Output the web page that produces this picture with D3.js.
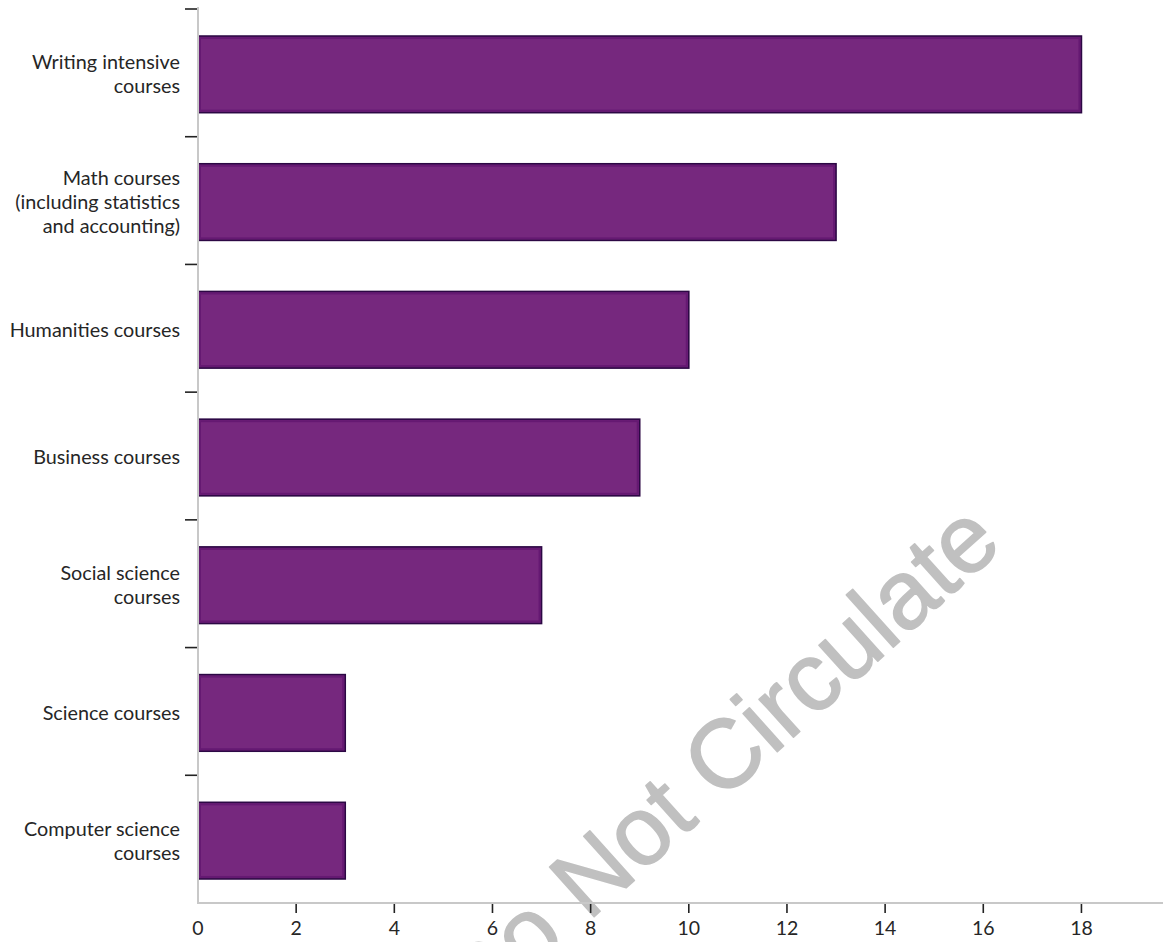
<!DOCTYPE html>
<html>
<head>
<meta charset="utf-8">
<script src="https://cdn.jsdelivr.net/npm/d3@7"></script>
<style>
  html, body { margin: 0; padding: 0; background: #fff; }
  svg { display: block; }
  .cat-label, .tick-label { font-family: Lato, "Open Sans", sans-serif; fill: #262626; }
</style>
</head>
<body>
<svg id="chart" width="1163" height="942"></svg>
<script>
// Course categories (top to bottom) and their counts
const categories = [
  "Writing intensive courses",
  "Math courses (including statistics and accounting)",
  "Humanities courses",
  "Business courses",
  "Social science courses",
  "Science courses",
  "Computer science courses"
];
const labelLines = [
  ["Writing intensive", "courses"],
  ["Math courses", "(including statistics", "and accounting)"],
  ["Humanities courses"],
  ["Business courses"],
  ["Social science", "courses"],
  ["Science courses"],
  ["Computer science", "courses"]
];
const values = [18, 13, 10, 9, 7, 3, 3];
const xTicks = [0, 2, 4, 6, 8, 10, 12, 14, 16, 18];

const svg = d3.select("#chart");

const plotLeft = 198, plotTop = 9, plotBottom = 903;

const x = d3.scaleLinear().domain([0, 20]).range([plotLeft, plotLeft + 20 * 49.08]);
const y = d3.scaleBand().domain(categories).range([plotTop, plotBottom])
  .paddingInner(0.4).paddingOuter(0.2);
const step = y.step();

// Watermark across the lower right of the plot
svg.append("text")
  .attr("transform", "translate(476,1023) rotate(-42)")
  .attr("text-anchor", "start")
  .attr("font-family", "'Liberation Sans', Arial, sans-serif")
  .attr("font-size", 97)
  .attr("fill", "#c0c0c0")
  .attr("stroke", "#c0c0c0")
  .attr("stroke-width", 1.5)
  .attr("stroke-linejoin", "round")
  .text("Do Not Circulate");

// Bars
const bars = svg.append("g");
bars.selectAll("rect.bar")
  .data(values)
  .join("rect")
  .attr("class", "bar")
  .attr("x", x(0))
  .attr("y", (d, i) => y(categories[i]) + 1.5)
  .attr("width", d => x(d) - x(0))
  .attr("height", y.bandwidth())
  .attr("fill", "#76287e")
  .attr("stroke", "#2c0844")
  .attr("stroke-width", 1.6);
// soft inner edge of each bar
bars.selectAll("rect.inner")
  .data(values)
  .join("rect")
  .attr("class", "inner")
  .attr("x", x(0) + 2)
  .attr("y", (d, i) => y(categories[i]) + 3.5)
  .attr("width", d => x(d) - x(0) - 4)
  .attr("height", y.bandwidth() - 4)
  .attr("fill", "none")
  .attr("stroke", "#5a0f6a")
  .attr("stroke-opacity", 0.6)
  .attr("stroke-width", 2);

// Y axis: light line with dark ticks at the category boundaries
svg.append("line")
  .attr("x1", plotLeft).attr("x2", plotLeft)
  .attr("y1", plotTop - 2).attr("y2", plotBottom)
  .attr("stroke", "#c8c8c8").attr("stroke-width", 2);
const yBounds = d3.range(categories.length).map(i => plotTop + i * step);
svg.selectAll("line.ytick")
  .data(yBounds)
  .join("line")
  .attr("class", "ytick")
  .attr("x1", plotLeft - 13).attr("x2", plotLeft - 1)
  .attr("y1", d => d).attr("y2", d => d)
  .attr("stroke", "#222").attr("stroke-width", 1.6);

// Category labels
const labels = svg.selectAll("text.cat-label")
  .data(labelLines)
  .join("text")
  .attr("class", "cat-label")
  .attr("text-anchor", "end")
  .attr("font-size", 19.8);
const lineH = 24;
labels.each(function(lines, i) {
  const cy = y(categories[i]) + y.bandwidth() / 2 + 1.5;
  const y0 = cy - (lines.length - 1) * lineH / 2;
  d3.select(this).selectAll("tspan")
    .data(lines)
    .join("tspan")
    .attr("x", 180)
    .attr("y", (d, j) => y0 + j * lineH)
    .attr("dy", "0.35em")
    .text(d => d);
});

// X axis
svg.append("line")
  .attr("x1", plotLeft - 1).attr("x2", 1163)
  .attr("y1", plotBottom).attr("y2", plotBottom)
  .attr("stroke", "#c8c8c8").attr("stroke-width", 2);
svg.selectAll("line.xtick")
  .data(xTicks.filter(d => d > 0))
  .join("line")
  .attr("class", "xtick")
  .attr("x1", d => x(d)).attr("x2", d => x(d))
  .attr("y1", plotBottom + 1).attr("y2", plotBottom + 10)
  .attr("stroke", "#222").attr("stroke-width", 1.6);
svg.selectAll("text.tick-label")
  .data(xTicks)
  .join("text")
  .attr("class", "tick-label")
  .attr("x", d => x(d))
  .attr("y", 928)
  .attr("dy", "0.35em")
  .attr("text-anchor", "middle")
  .attr("font-size", 19.5)
  .text(d => d);
</script>
</body>
</html>
